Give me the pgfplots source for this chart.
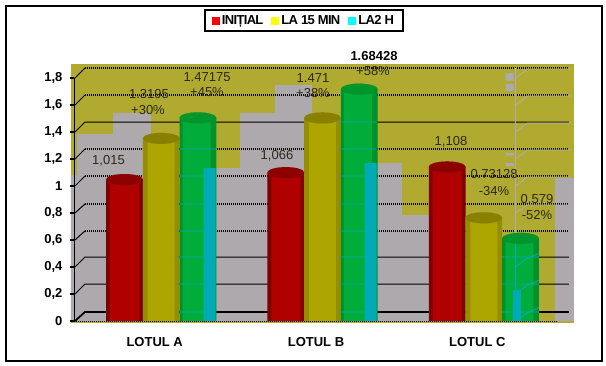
\documentclass[border=0pt]{standalone}
\usepackage{fontspec}
\setmainfont{Liberation Sans}
\usepackage{pgfplots}
\usepackage{pgfplotstable}
\pgfplotsset{compat=1.18}
\definecolor{olivebg}{RGB}{177,170,48}
\definecolor{greybg}{RGB}{173,169,173}
\definecolor{redm}{RGB}{176,0,0}\definecolor{redd}{RGB}{128,0,0}\definecolor{redc}{RGB}{140,0,0}
\definecolor{yelm}{RGB}{173,165,0}\definecolor{yeld}{RGB}{150,142,0}\definecolor{yelc}{RGB}{138,128,0}
\definecolor{grem}{RGB}{0,173,58}\definecolor{gred}{RGB}{0,145,42}\definecolor{grec}{RGB}{0,150,43}
\definecolor{teal2}{RGB}{0,171,181}
\definecolor{pale}{RGB}{176,170,182}
\definecolor{txt}{RGB}{45,40,30}
\definecolor{legr}{RGB}{255,0,0}\definecolor{legy}{RGB}{255,255,0}\definecolor{legc}{RGB}{0,255,255}
\pgfplotstableread{
x init la15 la2h
0 1.015 1.3195 1.47175
1 1.066 1.471 1.68428
2 1.108 0.73128 0.579
}\datatable
\newcommand{\lab}[3]{\node[font=\fontsize{13}{13}\selectfont,text=txt,inner sep=0pt] at (#1pt,{365pt-#2pt}) {#3};}
\pgfplotsset{
  cap/.style={forget plot,only marks,mark=*,mark size=1pt,mark options={xscale=18.35,yscale=5.5,draw=#1,fill=#1,line width=0.05pt}},
  body/.style 2 args={forget plot,ybar,bar shift=0pt,bar width=#1,fill=#2,draw=none},
}
\begin{document}
\begin{tikzpicture}
\useasboundingbox (0,0) rectangle (606pt,365pt);
\draw[line width=2pt] (6pt,4pt) rectangle (601.5pt,359pt);
\begin{axis}[
  at={(74pt,44pt)}, anchor=south west,
  scale only axis, width=484pt, height=243pt,
  xmin=-0.5, xmax=2.5, ymin=0, ymax=1.8,
  clip=false, axis on top,
  axis x line=bottom, axis y line=left,
  separate axis lines,
  x axis line style={-,black,line width=1pt,dash pattern=on 1pt off 1pt},
  y axis line style={-,black,line width=1pt},
  xtick={0,1,2}, xticklabels={LOTUL A,LOTUL B,LOTUL C},
  ytick={0,0.2,0.4,0.6,0.8,1,1.2,1.4,1.6,1.8},
  yticklabels={0,{0,2},{0,4},{0,6},{0,8},1,{1,2},{1,4},{1,6},{1,8}},
  x tick style={draw=none},
  y tick style={black,line width=1.5pt},
  tick align=outside, major tick length=4pt,
  extra x ticks={-0.5,0.5,1.5,2.5},
  extra x tick labels={},
  extra x tick style={tick style={draw=black,line width=1.2pt},major tick length=4pt},
  y tick label style={font=\fontsize{13}{13}\bfseries\selectfont,xshift=-4pt,text=black},
  x tick label style={font=\fontsize{13}{13}\bfseries\selectfont,yshift=-9pt,text=black},
  legend columns=3,
  legend style={at={(0.475,1.2366)},anchor=center,draw=black,line width=2pt,
    font=\fontsize{13}{13}\bfseries\selectfont\addfontfeature{LetterSpace=-5},
    inner xsep=7pt,inner ysep=3pt,
    /tikz/every even column/.append style={column sep=6pt}},
]
% legend
\addlegendimage{legend image code/.code={\fill[legr] (0pt,-3pt) rectangle (6pt,3pt);}}
\addlegendentry{INIȚIAL}
\addlegendimage{legend image code/.code={\fill[legy] (0pt,-3pt) rectangle (6pt,3pt);}}
\addlegendentry{LA 15 MIN}
\addlegendimage{legend image code/.code={\fill[legc] (0pt,-3pt) rectangle (6pt,3pt);}}
\addlegendentry{LA2 H}
% background
\addplot[forget plot,draw=none,fill=olivebg] coordinates {(-0.519,-0.015)(2.599,-0.015)(2.599,1.904)(-0.519,1.904)} -- cycle;
\addplot[forget plot,draw=none,fill=greybg] coordinates {
(-0.481,0)(-0.481,1.081)(-0.519,1.081)(-0.519,0)(-0.481,0)(-0.481,1.385)(-0.258,1.385)(-0.258,1.541)(-0.023,1.541)(-0.023,0)(0.30,0)(0.30,1.133)(0.529,1.133)(0.529,1.541)(0.746,1.541)(0.746,1.748)(0.975,1.748)(0.975,0)(1.304,0)(1.304,1.170)(1.533,1.170)(1.533,0.785)(1.70,0.785)(1.70,0)(2.481,0)(2.481,1.059)(2.599,1.059)(2.599,0)
} -- cycle;
% grid: solid
\addplot[forget plot,black,line width=1pt,unbounded coords=jump] coordinates {
(-0.494,1.4)(-0.432,1.474)(2.568,1.474)(2.568,nan)
(-0.494,0.4)(-0.432,0.474)(2.568,0.474)(2.568,nan)
(-0.494,0.2)(-0.432,0.274)(2.568,0.274)
};
\addplot[forget plot,black,line width=1.8pt] coordinates {(-0.494,0)(-0.432,0.067)(2.568,0.067)};
% grid: dotted
\addplot[forget plot,black,line width=1.4pt,unbounded coords=jump,dash pattern=on 1pt off 1pt] coordinates {
(-0.432,1.874)(2.568,1.874)(2.568,nan)
(-0.432,1.674)(2.568,1.674)(2.568,nan)
(-0.432,1.274)(2.568,1.274)(2.568,nan)
(-0.432,1.074)(2.568,1.074)(2.568,nan)
(-0.432,0.867)(2.568,0.867)(2.568,nan)
(-0.432,0.667)(2.568,0.667)
};
\addplot[forget plot,black,line width=1pt,unbounded coords=jump] coordinates {
(-0.494,1.8)(-0.432,1.874)(-0.432,nan)
(-0.494,1.6)(-0.432,1.674)(-0.432,nan)
(-0.494,1.2)(-0.432,1.274)(-0.432,nan)
(-0.494,1.0)(-0.432,1.074)(-0.432,nan)
(-0.494,0.8)(-0.432,0.867)(-0.432,nan)
(-0.494,0.6)(-0.432,0.667)
};
% pale line work at the right
\addplot[forget plot,pale,line width=0.8pt,unbounded coords=jump] coordinates {
(2.237,1.874)(2.237,0)(2.237,nan)
(2.237,1.8)(2.31,1.866)(2.58,1.866)(2.58,nan)
(2.237,1.6)(2.31,1.666)(2.58,1.666)(2.58,nan)
(2.237,1.4)(2.31,1.466)(2.58,1.466)(2.58,nan)
(2.237,1.2)(2.31,1.266)(2.58,1.266)(2.58,nan)
(2.237,1.0)(2.31,1.066)(2.58,1.066)(2.58,nan)
(2.237,0.8)(2.31,0.859)(2.58,0.859)
};
\addplot[forget plot,draw=none,fill=greybg,unbounded coords=jump] coordinates {
(2.175,1.837)(2.225,1.837)(2.225,1.778)(2.175,1.778)(2.175,1.837)(2.175,nan)
(2.175,1.756)(2.225,1.756)(2.225,1.704)(2.175,1.704)(2.175,1.756)(2.175,nan)
(2.175,1.245)(2.225,1.245)(2.225,1.225)(2.175,1.225)(2.175,1.245)(2.175,nan)
(2.175,1.17)(2.225,1.17)(2.225,1.15)(2.175,1.15)(2.175,1.17)
};
% bars: an edge band and a lighter middle band, then the top
\addplot[body={36.7pt}{redd}] table[x expr=\thisrow{x}-0.187,y expr=\thisrow{init}+0.033] {\datatable};
\addplot[body={29pt}{redm}] table[x expr=\thisrow{x}-0.187,y expr=\thisrow{init}+0.033] {\datatable};
\addplot[cap=redc] table[x expr=\thisrow{x}-0.187,y expr=\thisrow{init}+0.033] {\datatable};
\addplot[body={36.7pt}{yeld}] table[x expr=\thisrow{x}+0.04,y expr=\thisrow{la15}+0.033] {\datatable};
\addplot[body={27pt}{yelm}] table[x expr=\thisrow{x}+0.04,y expr=\thisrow{la15}+0.033] {\datatable};
\addplot[cap=yelc] table[x expr=\thisrow{x}+0.04,y expr=\thisrow{la15}+0.033] {\datatable};
\addplot[body={36.7pt}{gred}] table[x expr=\thisrow{x}+0.268,y expr=\thisrow{la2h}+0.033] {\datatable};
\addplot[body={28pt}{grem}] table[x expr=\thisrow{x}+0.26,y expr=\thisrow{la2h}+0.033] {\datatable};
\addplot[cap=grec] table[x expr=\thisrow{x}+0.268,y expr=\thisrow{la2h}+0.033] {\datatable};
% teal strips
\addplot[forget plot,ybar,bar shift=0pt,bar width=12pt,fill=teal2,draw=none] coordinates {(0.34,1.133)(1.338,1.170)};
\addplot[forget plot,ybar,bar shift=0pt,bar width=8pt,fill=teal2,draw=none] coordinates {(2.246,0.23)};
% cyan gridlines seen through the green bars
\addplot[forget plot,teal2,line width=0.9pt,unbounded coords=jump] coordinates {
(0.138,1.274)(0.38,1.274)(0.38,nan)(0.138,1.074)(0.38,1.074)(0.38,nan)(0.138,0.867)(0.38,0.867)(0.38,nan)(0.138,0.667)(0.38,0.667)(0.38,nan)(0.138,0.474)(0.38,0.474)(0.38,nan)(0.138,0.274)(0.38,0.274)(0.38,nan)(0.138,0.067)(0.38,0.067)(0.38,nan)
(1.143,1.474)(1.372,1.474)(1.372,nan)(1.143,1.274)(1.372,1.274)(1.372,nan)(1.143,1.074)(1.372,1.074)(1.372,nan)(1.143,0.867)(1.372,0.867)(1.372,nan)(1.143,0.667)(1.372,0.667)(1.372,nan)(1.143,0.474)(1.372,0.474)(1.372,nan)(1.143,0.274)(1.372,0.274)(1.372,nan)(1.143,0.067)(1.372,0.067)(1.372,nan)
(2.153,0.474)(2.382,0.474)(2.382,nan)(2.153,0.274)(2.382,0.274)(2.382,nan)(2.153,0.067)(2.382,0.067)(2.382,nan)
(2.237,0.6)(2.237,0)(2.237,nan)
(2.237,0.4)(2.31,0.466)(2.38,0.5)(2.38,nan)
(2.237,0.2)(2.31,0.266)(2.38,0.3)(2.38,nan)
(2.237,0.0)(2.31,0.06)(2.38,0.1)
};
\end{axis}
\lab{108.5}{161}{1,015}
\lab{149}{94}{1.3195}
\lab{148}{110}{+30\%}
\lab{207}{77}{1.47175}
\lab{207}{92}{+45\%}
\lab{277}{156}{1,066}
\lab{313}{78}{1.471}
\lab{313}{93}{+38\%}
\node[font=\fontsize{13}{13}\bfseries\selectfont,text=black,inner sep=0pt] at (374pt,{365pt-56pt}) {1.68428};
\lab{373}{71}{+58\%}
\lab{451}{142}{1,108}
\lab{494}{174}{0.73128}
\lab{494}{191}{-34\%}
\lab{537}{199}{0.579}
\lab{537}{215}{-52\%}
\end{tikzpicture}
\end{document}
